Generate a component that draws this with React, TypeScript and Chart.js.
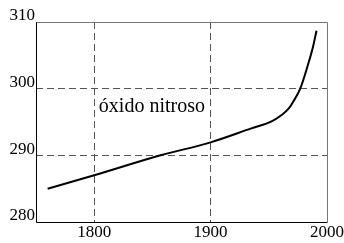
import React, { useEffect, useRef } from "react";
import { Chart, registerables } from "chart.js";

Chart.register(...registerables);

const years = [1760, 1800, 1857, 1900, 1935, 1952, 1961, 1967, 1971, 1977, 1984, 1988, 1991];
const values = [285.0, 287.0, 290.0, 291.95, 294.05, 295.05, 296.05, 297.0, 298.05, 300.0, 303.8, 306.3, 308.7];
const xTicks = [1800, 1900, 2000];
const yTicks = [280, 290, 300, 310];
const label = "óxido nitroso";
const labelAt = { x: 1804, y: 296.5 };

const FONT = '"Liberation Serif", "Times New Roman", Times, serif';

export default function App() {
  const ref = useRef<HTMLCanvasElement>(null);
  useEffect(() => {
    document.body.style.margin = "0";
    let chart: Chart | null = null;
    let cancelled = false;
    const borderPlugin = {
      id: "frame",
      afterDraw(c: any) {
        const { ctx, chartArea: a, scales } = c;
        ctx.save();
        ctx.lineWidth = 1;
        ctx.strokeStyle = "#777";
        ctx.beginPath();
        ctx.moveTo(a.left, a.top + 0.5);
        ctx.lineTo(a.right + 0.5, a.top + 0.5);
        ctx.lineTo(a.right + 0.5, a.bottom);
        ctx.stroke();
        ctx.strokeStyle = "#000";
        ctx.beginPath();
        ctx.moveTo(a.left + 0.5, a.top);
        ctx.lineTo(a.left + 0.5, a.bottom + 0.5);
        ctx.lineTo(a.right + 0.5, a.bottom + 0.5);
        ctx.stroke();
        ctx.fillStyle = "#000";
        ctx.font = `20px ${FONT}`;
        ctx.textAlign = "left";
        ctx.textBaseline = "alphabetic";
        ctx.fillText(label, scales.x.getPixelForValue(labelAt.x), scales.y.getPixelForValue(labelAt.y));
        ctx.restore();
      },
    };
    const make = () => {
      if (cancelled || !ref.current) return;
      chart = new Chart(ref.current, {
        type: "line",
        data: {
          datasets: [
            {
              data: years.map((x, i) => ({ x, y: values[i] })),
              borderColor: "#000",
              borderWidth: 2,
              pointRadius: 0,
              cubicInterpolationMode: "monotone",
              fill: false,
            },
          ],
        },
        options: {
          animation: false,
          responsive: false,
          devicePixelRatio: 1,
          layout: { padding: { top: 22, right: 17, left: 0, bottom: 0 } },
          plugins: { legend: { display: false }, tooltip: { enabled: false } },
          scales: {
            x: {
              type: "linear",
              min: 1750,
              max: 2000,
              afterBuildTicks: (axis: any) => {
                axis.ticks = xTicks.map((v) => ({ value: v }));
              },
              afterFit: (axis: any) => {
                axis.height = 21;
              },
              border: { display: false, dash: [7, 4] },
              grid: {
                color: (c: any) => (c.tick && (c.tick.value === 1800 || c.tick.value === 1900) ? "#555" : "rgba(0,0,0,0)"),
                lineWidth: 1,
                drawTicks: false,
              },
              ticks: {
                color: "#000",
                font: { family: FONT, size: 17 },
                padding: 0,
                maxRotation: 0,
                autoSkip: false,
                callback: (v: any) => String(v),
              },
            },
            y: {
              type: "linear",
              min: 280,
              max: 310,
              afterBuildTicks: (axis: any) => {
                axis.ticks = yTicks.map((v) => ({ value: v }));
              },
              afterFit: (axis: any) => {
                axis.width = 36;
              },
              border: { display: false, dash: [7, 4] },
              grid: {
                color: (c: any) => (c.tick && (c.tick.value === 290 || c.tick.value === 300) ? "#555" : "rgba(0,0,0,0)"),
                lineWidth: 1,
                drawTicks: false,
              },
              ticks: {
                color: "#000",
                font: { family: FONT, size: 17 },
                padding: 1,
                labelOffset: -6,
                callback: (v: any) => String(v),
              },
            },
          },
        } as any,
        plugins: [borderPlugin],
      });
    };
    const fonts = (document as any).fonts;
    if (fonts && fonts.load) {
      fonts.load(`17px "Liberation Serif"`).then(make, make);
    } else {
      make();
    }
    return () => {
      cancelled = true;
      if (chart) chart.destroy();
    };
  }, []);
  return (
    <div style={{ position: "absolute", left: 0, top: 0, width: 344, height: 243 }}>
      <canvas ref={ref} width={344} height={243} style={{ width: 344, height: 243 }} />
    </div>
  );
}
